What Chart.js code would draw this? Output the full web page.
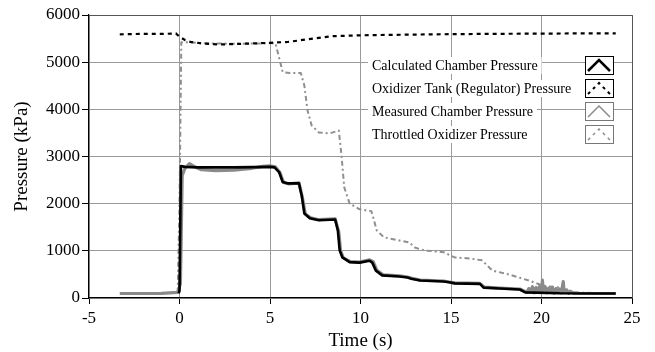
<!DOCTYPE html>
<html><head><meta charset="utf-8">
<script src="https://cdn.jsdelivr.net/npm/chart.js@4.4.0/dist/chart.umd.min.js"></script>
<style>html,body{margin:0;padding:0;background:#fff}#wrap{width:655px;height:352px}</style>
</head><body><div id="wrap"><canvas id="c" width="655" height="352"></canvas></div>
<script>
const seriesNames = ["Calculated Chamber Pressure","Oxidizer Tank (Regulator) Pressure","Measured Chamber Pressure","Throttled Oxidizer Pressure"];
const xTicks = [-5,0,5,10,15,20,25];
const yTicks = [0,1000,2000,3000,4000,5000,6000];

const calcT = [-0.05,0.0,0.08,0.3,1,2,3,4,5,5.25,5.5,5.7,6.0,6.6,6.75,6.9,7.2,7.7,8.6,8.75,8.85,9.0,9.4,9.95,10.5,10.65,10.85,11.2,12.15,12.6,12.8,13.3,14.6,14.9,15.2,16.6,16.8,17.7,18.8,19.1,21,24.1];
const calcP = [100,150,2800,2780,2770,2770,2770,2775,2780,2770,2670,2460,2430,2430,2175,1790,1690,1650,1665,1430,1010,860,760,750,790,750,580,480,455,435,410,370,350,335,310,300,220,200,180,120,100,95];

const tankT = [-3.3,-2,-0.8,-0.2,0.0,0.3,0.6,1.2,2.2,3.5,5,6,7,8.45,10,12,14,17,20,22,24.1];
const tankP = [5590,5600,5600,5610,5540,5470,5430,5400,5375,5390,5410,5430,5480,5550,5570,5580,5590,5600,5605,5610,5610];

const measT = [-3.3,-1,-0.1,0.05,0.15,0.3,0.55,0.8,1.2,2,3,4,4.6,5.0,5.3,5.55,5.75,6.05,6.6,6.78,6.95,7.25,7.7,8.6,8.8,8.9,9.05,9.45,9.95,10.5,10.7,10.9,11.25,12.15,12.6,12.85,13.3,14.6,14.9,15.2,16.6,16.85,17.7,18.8,19.2,19.3,19.4,19.5,19.6,19.7,19.8,19.9,20.0,20.05,20.1,20.2,20.3,20.4,20.5,20.6,20.7,20.8,20.9,21.0,21.1,21.2,21.25,21.4,21.5,21.6,21.8,24.1];
const measP = [95,100,120,300,2600,2750,2850,2790,2720,2700,2710,2750,2790,2800,2780,2660,2450,2420,2440,2150,1780,1700,1660,1680,1400,1000,850,770,760,810,770,590,490,470,445,420,380,360,340,320,310,230,210,190,120,200,130,240,110,220,140,250,120,380,140,240,110,210,130,230,100,200,120,190,110,350,120,170,100,140,100,95];

const throtT = [-0.1,0.0,0.1,0.5,1.5,3,5,5.3,5.5,5.7,6.1,6.7,6.9,7.07,7.3,7.7,8.3,8.8,8.95,9.1,9.4,9.95,10.6,10.7,10.9,11.3,12.15,12.7,13.0,13.5,14.6,15.2,16.0,16.7,17.3,18.1,19.3,20.1,21.0,21.9,23,24.1];
const throtP = [110,2000,5420,5420,5400,5390,5400,5400,5100,4790,4770,4770,4500,3980,3660,3510,3490,3550,3025,2350,2000,1880,1840,1710,1430,1285,1220,1180,1070,1010,970,860,840,800,580,510,370,260,220,120,100,100];

function pts(t,p){return t.map((v,i)=>({x:v,y:p[i]}));}

const SERIF = "'Liberation Serif','Times New Roman',serif";
const legendStyles = [
  {color:'#000', dash:[], width:2.5, box:'#000'},
  {color:'#000', dash:[3,4], width:2, box:'#000'},
  {color:'#8c8c8c', dash:[], width:1.5, box:'#777'},
  {color:'#8c8c8c', dash:[3,4], width:1.5, box:'#777'}
];

const legendPlugin = {
  id:'customLegend',
  afterDraw(chart){
    const ctx = chart.ctx;
    const rowsY = [65,88,111,134];
    ctx.save();
    ctx.font = "14px " + SERIF;
    ctx.textBaseline = 'middle';
    seriesNames.forEach((name,i)=>{
      const y = rowsY[i];
      const w = ctx.measureText(name).width;
      ctx.fillStyle = '#fff';
      ctx.fillRect(368, y-8, w+8, 17);
      ctx.fillStyle = '#000';
      ctx.fillText(name, 372, y+1);
      const bx=585, by=y-9, bw=28, bh=18;
      ctx.fillStyle='#fff';
      ctx.fillRect(bx,by,bw,bh);
      ctx.strokeStyle = legendStyles[i].box;
      ctx.lineWidth = 1;
      ctx.setLineDash([]);
      ctx.strokeRect(bx+0.5,by+0.5,bw,bh);
      ctx.strokeStyle = legendStyles[i].color;
      ctx.lineWidth = legendStyles[i].width;
      ctx.setLineDash(legendStyles[i].dash);
      ctx.beginPath();
      ctx.moveTo(bx+3, by+bh-3);
      ctx.lineTo(bx+bw/2, by+4);
      ctx.lineTo(bx+bw-3, by+bh-3);
      ctx.stroke();
    });
    const a = chart.chartArea;
    ctx.setLineDash([]);
    ctx.strokeStyle = '#555';
    ctx.lineWidth = 1;
    ctx.beginPath();
    ctx.moveTo(a.left, a.top+0.5); ctx.lineTo(a.right+0.5, a.top+0.5); ctx.lineTo(a.right+0.5, a.bottom);
    ctx.stroke();
    ctx.restore();
  }
};

new Chart(document.getElementById('c'), {
  type:'line',
  data:{datasets:[
    {label:seriesNames[0], data:pts(calcT,calcP), borderColor:'#000', borderWidth:2.6, borderJoinStyle:'round', pointRadius:0, tension:0},
    {label:seriesNames[1], data:pts(tankT,tankP), borderColor:'#000', borderWidth:2.2, borderDash:[4,4], pointRadius:0, tension:0},
    {label:seriesNames[2], data:pts(measT,measP), borderColor:'#8a8a8a', borderWidth:3.2, borderJoinStyle:'round', pointRadius:0, tension:0},
    {label:seriesNames[3], data:pts(throtT,throtP), borderColor:'#8f8f8f', borderWidth:2, borderDash:[5,3,2,3], borderJoinStyle:'round', pointRadius:0, tension:0}
  ]},
  options:{
    responsive:false, animation:false,
    layout:{padding:{top:15,right:23,left:0,bottom:0}},
    plugins:{legend:{display:false}, tooltip:{enabled:false}},
    scales:{
      x:{type:'linear', min:-5, max:25,
        afterBuildTicks(s){s.ticks = xTicks.map(v=>({value:v}));},
        afterFit(s){s.height = 54;},
        grid:{color:'#9a9a9a', lineWidth:1, tickLength:6, tickColor:'#000', drawTicks:true},
        border:{color:'#000', width:1.2},
        ticks:{color:'#000', font:{family:SERIF, size:17}, padding:4, maxRotation:0, callback:v=>String(v)},
        title:{display:true, text:'Time (s)', color:'#000', font:{family:SERIF, size:19}, padding:{top:0,bottom:0}}
      },
      y:{type:'linear', min:0, max:6000,
        afterBuildTicks(s){s.ticks = yTicks.map(v=>({value:v}));},
        afterFit(s){s.width = 89;},
        grid:{color:'#9a9a9a', lineWidth:1, tickLength:7, tickColor:'#000', drawTicks:true},
        border:{color:'#000', width:1.2},
        ticks:{color:'#000', font:{family:SERIF, size:17}, padding:2, callback:v=>String(v)},
        title:{display:true, text:'Pressure (kPa)', color:'#000', font:{family:SERIF, size:19}, padding:{top:11,bottom:0}}
      }
    }
  },
  plugins:[legendPlugin]
});
</script></body></html>
